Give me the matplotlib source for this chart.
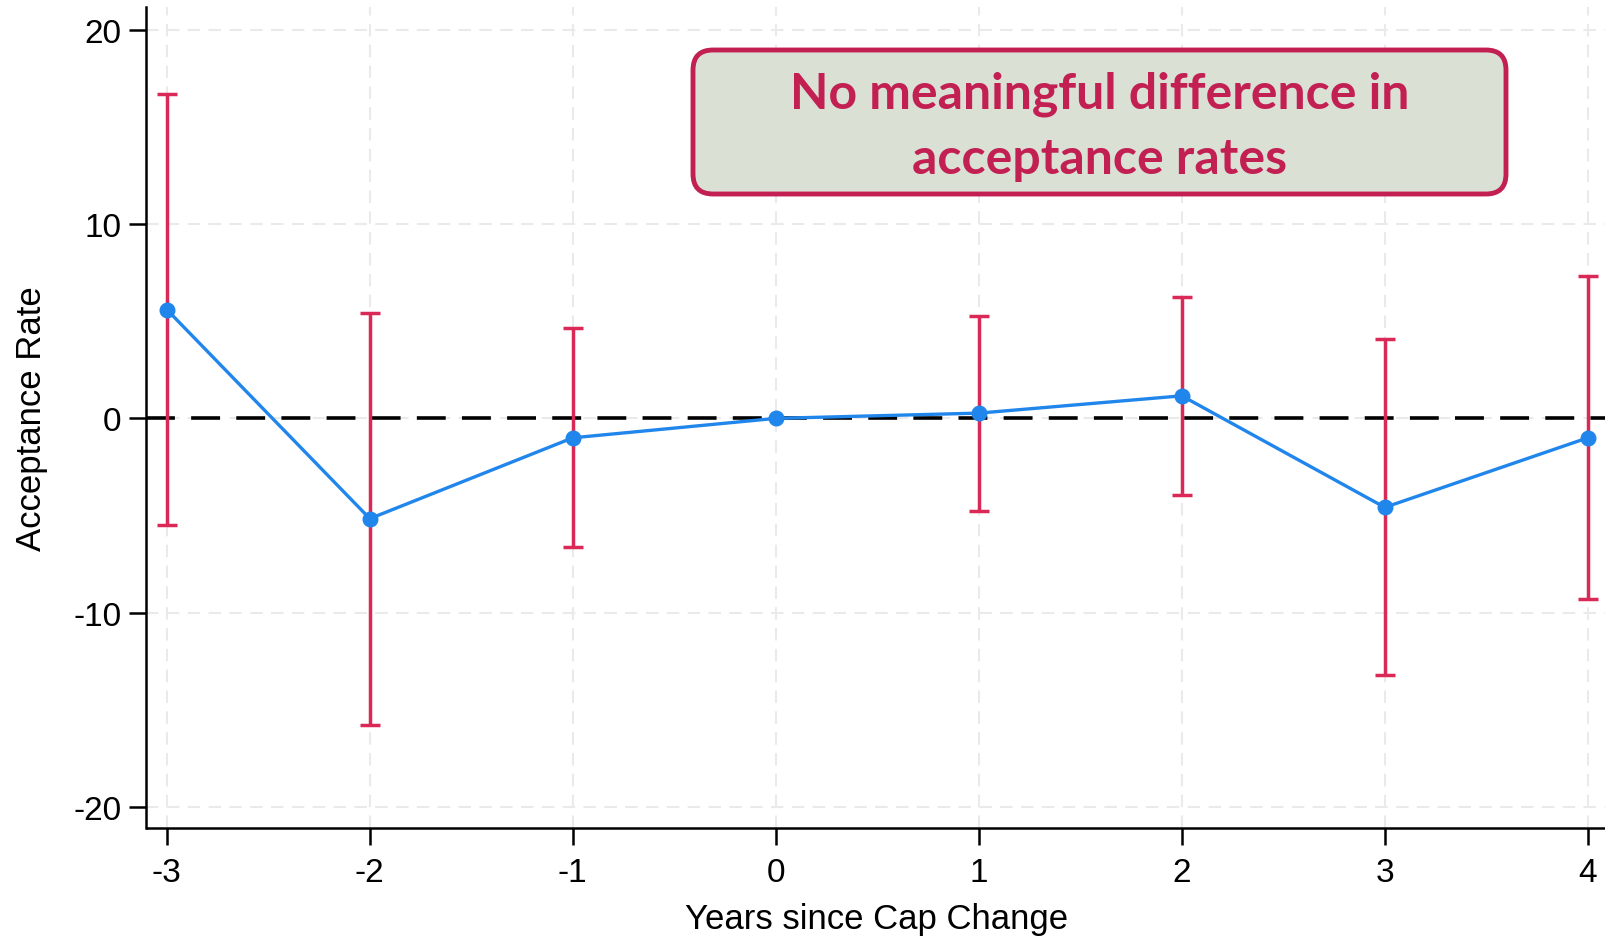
import matplotlib
matplotlib.use("Agg")
import matplotlib.pyplot as plt
from matplotlib.patches import FancyBboxPatch
from matplotlib.transforms import IdentityTransform

years = [-3, -2, -1, 0, 1, 2, 3, 4]
estimate = [5.6, -5.16, -1.0, 0.0, 0.27, 1.16, -4.58, -1.0]
ci_upper = [16.7, 5.44, 4.64, 0.0, 5.28, 6.23, 4.07, 7.34]
ci_lower = [-5.48, -15.76, -6.64, 0.0, -4.79, -3.95, -13.23, -9.32]
yticks = [-20, -10, 0, 10, 20]
annotation_lines = ["No meaningful difference in", "acceptance rates"]

BLUE = "#2186EB"
RED = "#DA2857"
BOX_EDGE = "#C21F53"
BOX_FILL = "#DBE0D5"

plt.rcParams['font.family'] = ['Liberation Sans', 'DejaVu Sans']
plt.rcParams['axes.unicode_minus'] = False

fig = plt.figure(figsize=(16.06, 9.37), dpi=100)
ax = fig.add_axes([146.5 / 1606, 1 - 828.6 / 937, 1 - 146.5 / 1606, (828.6 - 8.2) / 937])

ax.set_xlim(-3.10, -3.10 + 1459.5 / 203)
ax.set_ylim(-21.06, 21.16)

ax.set_xticks(years)
ax.set_yticks(yticks)
ax.grid(True, color="#EAEAEA", linestyle=(0, (6, 4)), linewidth=1.5, zorder=0)

ax.axhline(0, color="black", linestyle=(0, (8, 4.5)), linewidth=2.6, zorder=2)

lo = [e - l for e, l in zip(estimate, ci_lower)]
hi = [u - e for e, u in zip(estimate, ci_upper)]
ci_x = [x for x, l, u in zip(years, ci_lower, ci_upper) if u != l]
ci_e = [e for e, l, u in zip(estimate, ci_lower, ci_upper) if u != l]
ci_lo = [a for a, l, u in zip(lo, ci_lower, ci_upper) if u != l]
ci_hi = [b for b, l, u in zip(hi, ci_lower, ci_upper) if u != l]
ax.errorbar(ci_x, ci_e, yerr=[ci_lo, ci_hi], fmt="none", ecolor=RED,
            elinewidth=2.5, capsize=7, capthick=2.5, zorder=3)
ax.plot(years, estimate, color=BLUE, linewidth=2.4, marker="o", markersize=10.5,
        markerfacecolor=BLUE, markeredgecolor=BLUE, zorder=4)

for s in ["top", "right"]:
    ax.spines[s].set_visible(False)
for s in ["left", "bottom"]:
    ax.spines[s].set_linewidth(1.8)

ax.tick_params(axis="both", which="major", length=12, width=1.8, labelsize=24,
               direction="out", pad=6)
ax.tick_params(axis="x", pad=9)

ax.set_xlabel("Years since Cap Change", fontsize=25, labelpad=10)
ax.set_ylabel("Acceptance Rate", fontsize=25, labelpad=18)

# annotation box in pixel coordinates (origin bottom-left)
H = 937
box = FancyBboxPatch((693 + 20, H - 195 + 20), 1506 - 693 - 40, 195 - 51 - 40,
                     boxstyle="round,pad=20,rounding_size=20",
                     facecolor=BOX_FILL, edgecolor=BOX_EDGE, linewidth=3.5,
                     transform=IdentityTransform(), zorder=10)
fig.patches.append(box)
fig.text(1100 / 1606, 1 - 94 / 937, annotation_lines[0], ha="center", va="center",
         fontsize=36, fontweight="bold", color=BOX_EDGE, family=["Lato", "DejaVu Sans"], zorder=11)
fig.text(1100 / 1606, 1 - 159 / 937, annotation_lines[1], ha="center", va="center",
         fontsize=36, fontweight="bold", color=BOX_EDGE, family=["Lato", "DejaVu Sans"], zorder=11)

fig.savefig("out.png", dpi=100)
